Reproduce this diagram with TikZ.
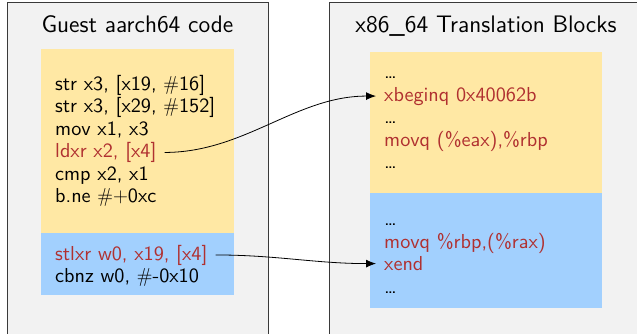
\documentclass[tikz,border=0pt]{standalone}
\usepackage{fontspec}
\setsansfont{lmsans10-regular.otf}
\newfontfamily\titlefont{lmsans12-regular.otf}
\usetikzlibrary{arrows.meta}
\definecolor{panelgray}{HTML}{F2F2F2}
\definecolor{codeyellow}{HTML}{FFE8A4}
\definecolor{codeblue}{HTML}{A2D0FE}
\definecolor{codered}{HTML}{B03030}
\definecolor{bordergray}{HTML}{3A3A3A}
\begin{document}
\begin{tikzpicture}[x=1bp,y=-1bp,
  panel/.style={draw=bordergray, line width=1bp, fill=panelgray},
  codeline/.style={anchor=base west, inner xsep=8bp, inner ysep=2bp,
    font=\sffamily\fontsize{20.3}{24}\selectfont, text=black},
  hot/.style={codeline, text=codered},
  paneltitle/.style={anchor=base, inner sep=0pt,
    font=\titlefont\fontsize{24}{28}\selectfont},
  link/.style={-{Latex[length=10bp,width=8bp]}, line width=0.8bp, black}]
\useasboundingbox (0,0) rectangle (637,333);
\clip (0,0) rectangle (637,333);
% panels
\path[panel] (7,2.5) rectangle (268,345);
\path[panel] (329.5,2.5) rectangle (660,345);
% code blocks
\fill[codeyellow] (41,49) rectangle (234,233);
\fill[codeblue] (41,233) rectangle (234,295);
\fill[codeyellow] (370,52) rectangle (602,193);
\fill[codeblue] (370,193) rectangle (602,308);
% titles
\node[paneltitle] (tleft) at (137.5,32.5) {Guest aarch64 code};
\node[paneltitle] (tright) at (486,32.5) {x86\_64 Translation Blocks};
% guest code
\node[codeline] (g1) at (47,90) {str x3, [x19, $\#$16]};
\node[codeline] (g2) at (47,112.5) {str x3, [x29, $\#$152]};
\node[codeline] (g3) at (47,135) {mov x1, x3};
\node[hot] (ldxr) at (47,157.5) {ldxr x2, [x4]};
\node[codeline] (g5) at (47,180) {cmp x2, x1};
\node[codeline] (g6) at (47,202.5) {b.ne $\#+$0xc};
\node[hot] (stlxr) at (47,260) {stlxr w0, x19, [x4]};
\node[codeline] (g8) at (47,282.5) {cbnz w0, $\#$-0x10};
% translation blocks
\node[codeline] (h1) at (376,78.5) {\dots};
\node[hot] (xbeg) at (376,101) {xbeginq 0x40062b};
\node[codeline] (h3) at (376,123.5) {\dots};
\node[hot] (h4) at (376,146) {movq (\%eax),\%rbp};
\node[codeline] (h5) at (376,168.5) {\dots};
\node[codeline] (h6) at (376,225.5) {\dots};
\node[hot] (h7) at (376,248) {movq \%rbp,(\%rax)};
\node[hot] (xend) at (376,270.5) {xend};
\node[codeline] (h9) at (376,293) {\dots};
% connectors
\draw[link] (ldxr.east) .. controls +(80,0) and +(-80,0) .. (xbeg.west);
\draw[link] (stlxr.east) .. controls +(60,0) and +(-60,0) .. (xend.west);
\end{tikzpicture}
\end{document}
